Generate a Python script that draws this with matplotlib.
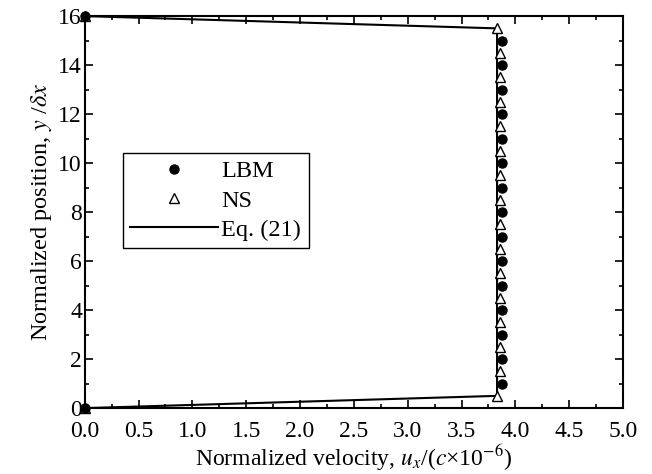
import matplotlib
matplotlib.use("Agg")
import matplotlib.pyplot as plt
from matplotlib.ticker import MultipleLocator
import numpy as np

plt.rcParams['font.family'] = ['Liberation Serif', 'DejaVu Serif']
plt.rcParams['mathtext.fontset'] = 'stix'

# LBM data (filled circles)
lbm_y = [0, 1, 2, 3, 4, 5, 6, 7, 8, 9, 10, 11, 12, 13, 14, 15, 16]
lbm_x = [0.0, 3.88, 3.88, 3.88, 3.88, 3.88, 3.88, 3.88, 3.88, 3.88, 3.88, 3.88, 3.88, 3.88, 3.88, 3.88, 0.0]

# NS data (open triangles)
ns_y = [0, 0.5, 1.5, 2.5, 3.5, 4.5, 5.5, 6.5, 7.5, 8.5, 9.5, 10.5, 11.5, 12.5, 13.5, 14.5, 15.5, 16]
ns_x = [0.0, 3.83, 3.86, 3.86, 3.86, 3.86, 3.86, 3.86, 3.86, 3.86, 3.86, 3.86, 3.86, 3.86, 3.86, 3.86, 3.83, 0.0]

# Eq. (21) line
eq_y = [0, 0.5, 15.5, 16]
eq_x = [0.0, 3.83, 3.83, 0.0]

fig = plt.figure(figsize=(6.52, 4.74), dpi=100)
ax = fig.add_axes([0.130, 0.139, 0.8255, 0.827])

ax.plot(ns_x, ns_y, linestyle='none', marker='^', markersize=7.5, markerfacecolor='white',
        markeredgecolor='black', markeredgewidth=1.0, label='NS', clip_on=False, zorder=3)
ax.plot(lbm_x, lbm_y, linestyle='none', marker='o', markersize=6.5, color='black',
        label='LBM', clip_on=False, zorder=4)
ax.plot(eq_x, eq_y, color='black', linewidth=1.5, label='Eq. (21)', zorder=2)

ax.set_xlim(0, 5.0)
ax.set_ylim(0, 16)
ax.xaxis.set_major_locator(MultipleLocator(0.5))
ax.xaxis.set_minor_locator(MultipleLocator(0.25))
ax.yaxis.set_major_locator(MultipleLocator(2))
ax.yaxis.set_minor_locator(MultipleLocator(1))
ax.xaxis.set_major_formatter(matplotlib.ticker.FormatStrFormatter('%.1f'))

ax.tick_params(which='both', direction='in', top=True, right=True, labelsize=17, width=1.2)
ax.tick_params(which='major', length=6)
ax.tick_params(which='minor', length=3)
ax.tick_params(axis='x', pad=9)
ax.tick_params(axis='y', pad=2)
for s in ax.spines.values():
    s.set_linewidth(1.5)

ax.set_xlabel(r'Normalized velocity, $u_x$/($c$×10$^{-6}$)', fontsize=17, labelpad=1)
ax.set_ylabel(r'Normalized position, $y$ /$\delta x$', fontsize=17.5, labelpad=3)

handles, labels = ax.get_legend_handles_labels()
order = [1, 0, 2]
leg = ax.legend([handles[i] for i in order], [labels[i] for i in order],
                loc='lower left', bbox_to_anchor=(0.071, 0.408), fontsize=17.5,
                frameon=True, fancybox=False, edgecolor='black', framealpha=1,
                handlelength=3.6, handletextpad=0.15, borderpad=0.3, labelspacing=0.3,
                borderaxespad=0)
leg.get_frame().set_linewidth(1.0)

fig.savefig('out.png', dpi=100)
